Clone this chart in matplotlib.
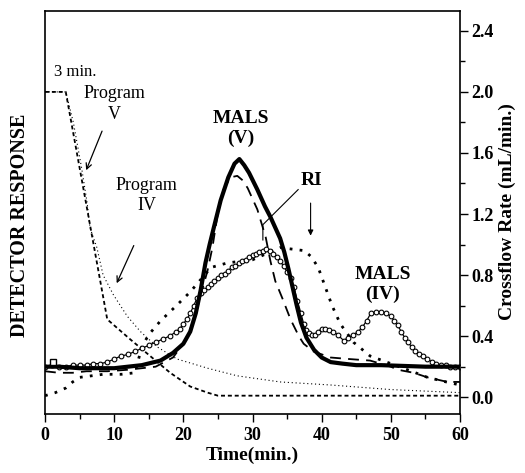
import matplotlib
matplotlib.use("Agg")
import matplotlib.pyplot as plt

plt.rcParams['font.family'] = ['Liberation Serif', 'DejaVu Serif']

# Crossflow programs (right axis units, mL/min)
prog_v_t = [0, 3, 9, 12.3, 18.1, 21, 23.5, 25, 60]
prog_v_y = [2.0, 2.0, 0.51, 0.38, 0.16, 0.07, 0.03, 0.01, 0.01]

prog_iv_t = [0, 3, 4.1, 5.3, 6.1, 6.5, 7.5, 8.4, 9.9, 11.9, 13.8, 16.2, 19.1, 23.5, 27.8, 34, 41.3, 50, 60]
prog_iv_y = [2.0, 2.0, 1.8, 1.5, 1.27, 1.11, 0.98, 0.8, 0.67, 0.53, 0.43, 0.33, 0.25, 0.19, 0.14, 0.1, 0.08, 0.05, 0.03]

# Detector responses (arbitrary, plotted on same scale)
mals_v_t = [0, 2, 5, 10, 14, 16.7, 18.5, 20, 21, 21.8, 22.5, 23.2, 23.8, 24.4, 25.4, 26.5, 27.4, 28.1, 28.8, 29.5, 30.7, 31.8, 32.6, 33.4, 34, 34.6, 35.2, 35.8, 36.4, 37, 37.8, 38.9, 40, 41.3, 43, 45, 48.6, 55, 60]
mals_v_y = [0.2, 0.2, 0.19, 0.19, 0.21, 0.24, 0.29, 0.35, 0.43, 0.55, 0.7, 0.88, 1.0, 1.11, 1.29, 1.44, 1.53, 1.56, 1.52, 1.47, 1.36, 1.25, 1.18, 1.1, 1.04, 0.95, 0.84, 0.72, 0.6, 0.49, 0.39, 0.31, 0.26, 0.23, 0.22, 0.21, 0.21, 0.2, 0.2]

ri_v_t = [0, 2, 4, 6, 9, 12, 16, 18.5, 20.5, 22, 23.5, 24.2, 24.9, 25.8, 26.8, 27.8, 28.6, 29.3, 30.7, 31.9, 32.6, 33.3, 34.3, 35.5, 36.7, 37.4, 38.8, 41.3, 44, 47, 50, 51, 53.3, 55.3, 58.2, 60]
ri_v_y = [0.17, 0.16, 0.16, 0.17, 0.17, 0.18, 0.2, 0.26, 0.38, 0.58, 0.83, 0.98, 1.18, 1.36, 1.44, 1.45, 1.42, 1.37, 1.23, 1.05, 0.89, 0.76, 0.65, 0.51, 0.4, 0.35, 0.3, 0.26, 0.25, 0.24, 0.2, 0.18, 0.16, 0.13, 0.1, 0.1]

ri_iv_t = [0, 1.5, 3, 4, 5, 8.4, 11, 13, 14, 15, 16.7, 19, 21, 24, 26.4, 30, 34, 37.5, 38.5, 39.5, 40.3, 41.5, 42.7, 44.6, 47, 50, 53, 55.3, 58, 60]
ri_iv_y = [0.01, 0.03, 0.06, 0.1, 0.13, 0.15, 0.15, 0.16, 0.33, 0.41, 0.5, 0.6, 0.69, 0.85, 0.88, 0.9, 0.98, 0.96, 0.92, 0.85, 0.75, 0.6, 0.48, 0.36, 0.27, 0.22, 0.17, 0.13, 0.1, 0.08]

mals_iv_t = [0, 1, 2, 3, 4, 5, 6, 7, 8, 9, 10, 11, 12, 13, 14, 15, 16, 17, 18, 19, 19.5, 20, 20.5, 21, 21.5, 22, 22.5, 23, 23.5, 24, 24.5, 25, 25.5, 26, 26.5, 27, 27.5, 28, 28.5, 29, 29.5, 30, 30.5, 31, 31.5, 32, 32.5, 33, 33.5, 34, 34.5, 35, 35.5, 36, 36.5, 37, 37.4, 37.8, 38.2, 38.6, 39, 39.5, 40, 40.5, 41, 41.7, 42.3, 43.2, 43.8, 44.6, 45.3, 45.9, 46.5, 47.1, 47.8, 48.6, 49.3, 50, 50.5, 51, 51.5, 52, 52.5, 53, 53.5, 54, 54.6, 55.3, 56, 56.6, 57.2, 58, 58.6, 59.3, 60]
mals_iv_y = [0.2, 0.21, 0.2, 0.2, 0.21, 0.21, 0.21, 0.22, 0.22, 0.23, 0.25, 0.27, 0.28, 0.3, 0.32, 0.34, 0.36, 0.38, 0.4, 0.43, 0.45, 0.48, 0.51, 0.55, 0.6, 0.65, 0.68, 0.7, 0.72, 0.74, 0.76, 0.78, 0.8, 0.81, 0.83, 0.85, 0.86, 0.88, 0.89, 0.9, 0.92, 0.93, 0.94, 0.95, 0.96, 0.97, 0.96, 0.94, 0.92, 0.89, 0.86, 0.82, 0.78, 0.72, 0.63, 0.55, 0.48, 0.44, 0.42, 0.41, 0.41, 0.43, 0.45, 0.45, 0.44, 0.43, 0.41, 0.37, 0.39, 0.41, 0.43, 0.46, 0.5, 0.55, 0.56, 0.56, 0.55, 0.53, 0.5, 0.47, 0.43, 0.39, 0.36, 0.33, 0.3, 0.28, 0.27, 0.25, 0.23, 0.22, 0.21, 0.21, 0.2, 0.2, 0.2]

x_ticks = [0, 10, 20, 30, 40, 50, 60]
y_ticks = [0.0, 0.4, 0.8, 1.2, 1.6, 2.0, 2.4]

fig = plt.figure(figsize=(5.25, 4.73), dpi=100)
ax = fig.add_axes([45/525, 1 - 414/473, (460-45)/525, (414-11)/473])

ax.plot(prog_v_t, prog_v_y, color='black', lw=1.3, linestyle=(0, (2.2, 1.6)))
ax.plot(prog_iv_t, prog_iv_y, color='black', lw=0.8, linestyle=(0, (1, 2.5)))
ax.plot(ri_iv_t, ri_iv_y, color='black', lw=2.0, linestyle=(0, (1, 2.6)))
ax.plot(ri_v_t, ri_v_y, color='black', lw=1.3, linestyle=(0, (6, 4)))
ax.plot(mals_iv_t, mals_iv_y, color='black', lw=0.9, marker='o', ms=3.4,
        mfc='white', mec='black', mew=0.8)
ax.plot(mals_v_t, mals_v_y, color='black', lw=3.0, solid_joinstyle='round')
ax.plot([1.2], [0.23], marker='s', ms=5, mfc='white', mec='black', mew=1.0)

ax.set_xlim(0, 60)
ax.set_ylim(-0.11, 2.53)
ax.set_xticks(x_ticks)
ax.set_xticks([5, 15, 25, 35, 45, 55], minor=True)
ax.set_yticks(y_ticks)
ax.set_yticks([0.2, 0.6, 1.0, 1.4, 1.8, 2.2], minor=True)
ax.set_yticklabels([f"{v:.1f}" for v in y_ticks])
ax.yaxis.tick_right()
ax.yaxis.set_label_position('right')
ax.tick_params(axis='both', which='major', direction='out', length=6, width=1.0,
               labelsize=13)
ax.tick_params(axis='both', which='minor', direction='out', length=3.5, width=1.0)
ax.tick_params(axis='y', which='both', left=False, right=True, pad=2)
for lab in ax.get_xticklabels() + ax.get_yticklabels():
    lab.set_fontweight('bold')
for s in ax.spines.values():
    s.set_linewidth(1.2)

ax.set_xlabel('Time(min.)', fontsize=14, fontweight='bold', labelpad=2)
fig.text(507/525, 1 - 212/473, 'Crossflow Rate (mL/min.)', rotation=90, fontsize=14,
         fontweight='bold', ha='center', va='center')
fig.text(20/525, 1 - 225/473, 'DETECTOR RESPONSE', rotation=90, fontsize=14.5,
         fontweight='bold', ha='center', va='center')

ax.text(1.3, 2.13, '3 min.', fontsize=12, ha='left', va='center')
ax.text(10.0, 1.92, 'Program\nV', fontsize=13, ha='center', va='center', linespacing=1.25)
ax.text(14.7, 1.32, 'Program\nIV', fontsize=13, ha='center', va='center', linespacing=1.25)
ax.annotate('', xy=(5.8, 1.47), xytext=(8.4, 1.76),
            arrowprops=dict(arrowstyle='->', color='black', lw=0.9))
ax.annotate('', xy=(10.2, 0.73), xytext=(13.0, 1.01),
            arrowprops=dict(arrowstyle='->', color='black', lw=0.9))
ax.text(28.3, 1.76, 'MALS\n(V)', fontsize=14, fontweight='bold', ha='center', va='center',
        linespacing=1.2)
ax.text(38.5, 1.42, 'RI', fontsize=14, fontweight='bold', ha='center', va='center')
ax.plot([36.6, 31.5, 31.5], [1.36, 1.13, 1.03], color='black', lw=0.8)
ax.annotate('', xy=(38.4, 1.04), xytext=(38.4, 1.29),
            arrowprops=dict(arrowstyle='-|>', color='black', lw=0.8, mutation_scale=8))
ax.text(48.8, 0.74, 'MALS\n(IV)', fontsize=14, fontweight='bold', ha='center', va='center',
        linespacing=1.2)

fig.savefig('out.png', dpi=100)
